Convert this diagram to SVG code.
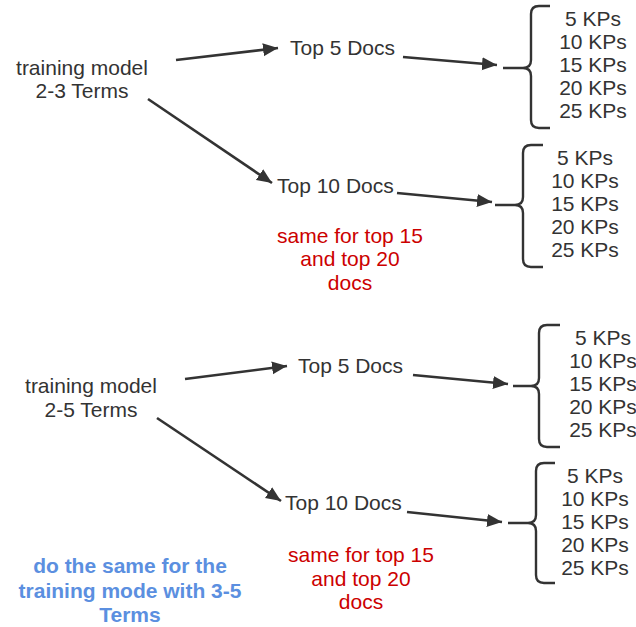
<svg xmlns="http://www.w3.org/2000/svg" width="636" height="627" viewBox="0 0 636 627">
<defs>
<marker id="ah" markerUnits="userSpaceOnUse" markerWidth="16" markerHeight="14" refX="15" refY="6.5" orient="auto">
<path d="M0,0 L15,6.5 L0,13 Z" fill="#333"/>
</marker>
<style>
text{font-family:"Liberation Sans",Arial,sans-serif;font-size:21px;fill:#333}
.c{text-anchor:middle}
.red{fill:#cc0000}
.blue{fill:#5b8fe0;font-weight:bold;font-size:21px}
.arr{stroke:#333;stroke-width:2.6;fill:none;marker-end:url(#ah)}
.br{stroke:#333;stroke-width:2.4;fill:none}
</style>
</defs>
<rect width="636" height="627" fill="#fff"/>
<g id="connectors">
<line class="arr" x1="176" y1="60" x2="278" y2="48"/>
<line class="arr" x1="148" y1="99" x2="272" y2="183"/>
<line class="arr" x1="403" y1="57" x2="497" y2="65"/>
<line class="arr" x1="397" y1="193" x2="492" y2="202"/>
<line class="arr" x1="185" y1="379" x2="287" y2="366"/>
<line class="arr" x1="157" y1="418" x2="281" y2="501"/>
<line class="arr" x1="413" y1="375" x2="508" y2="384"/>
<line class="arr" x1="407" y1="512" x2="502" y2="522"/>
</g>
<g id="model1"><text class="c" x="82" y="75">training model</text><text class="c" x="82" y="98">2-3 Terms</text></g>
<g id="top5a"><text x="290" y="55">Top 5 Docs</text></g>
<g id="top10a"><text x="277" y="193">Top 10 Docs</text></g>
<g id="note1"><text class="c red" x="350" y="243">same for top 15</text><text class="c red" x="350" y="266">and top 20</text><text class="c red" x="350" y="290">docs</text></g>
<g id="kps1">
<path class="br" d="M550,6 L539,6 Q531,6 531,14 L531,60 Q531,68 523,68 L503,68 M523,68 Q531,68 531,76 L531,120 Q531,128 539,128 L550,128"/>
<text class="c" x="593" y="26">5 KPs</text><text class="c" x="593" y="49">10 KPs</text><text class="c" x="593" y="72">15 KPs</text><text class="c" x="593" y="95">20 KPs</text><text class="c" x="593" y="118">25 KPs</text>
</g>
<g id="kps2">
<path class="br" d="M543,145 L531,145 Q523,145 523,153 L523,197 Q523,205 515,205 L495,205 M515,205 Q523,205 523,213 L523,259 Q523,267 531,267 L543,267"/>
<text class="c" x="585" y="165">5 KPs</text><text class="c" x="585" y="188">10 KPs</text><text class="c" x="585" y="211">15 KPs</text><text class="c" x="585" y="234">20 KPs</text><text class="c" x="585" y="257">25 KPs</text>
</g>
<g id="model2"><text class="c" x="91" y="393">training model</text><text class="c" x="91" y="417">2-5 Terms</text></g>
<g id="top5b"><text x="298" y="373">Top 5 Docs</text></g>
<g id="top10b"><text x="285" y="510">Top 10 Docs</text></g>
<g id="note2"><text class="c red" x="361" y="562">same for top 15</text><text class="c red" x="361" y="586">and top 20</text><text class="c red" x="361" y="609">docs</text></g>
<g id="kps3">
<path class="br" d="M560,325 L547,325 Q539,325 539,333 L539,378 Q539,386 531,386 L513,386 M531,386 Q539,386 539,394 L539,439 Q539,447 547,447 L560,447"/>
<text class="c" x="603" y="345">5 KPs</text><text class="c" x="603" y="368">10 KPs</text><text class="c" x="603" y="391">15 KPs</text><text class="c" x="603" y="414">20 KPs</text><text class="c" x="603" y="437">25 KPs</text>
</g>
<g id="kps4">
<path class="br" d="M555,463 L544,463 Q536,463 536,471 L536,515 Q536,523 528,523 L508,523 M528,523 Q536,523 536,531 L536,575 Q536,583 544,583 L555,583"/>
<text class="c" x="595" y="483">5 KPs</text><text class="c" x="595" y="506">10 KPs</text><text class="c" x="595" y="529">15 KPs</text><text class="c" x="595" y="552">20 KPs</text><text class="c" x="595" y="575">25 KPs</text>
</g>
<g id="note3"><text class="c blue" x="130" y="573">do the same for the</text><text class="c blue" x="130" y="598">training mode with 3-5</text><text class="c blue" x="130" y="622">Terms</text></g>
</svg>
